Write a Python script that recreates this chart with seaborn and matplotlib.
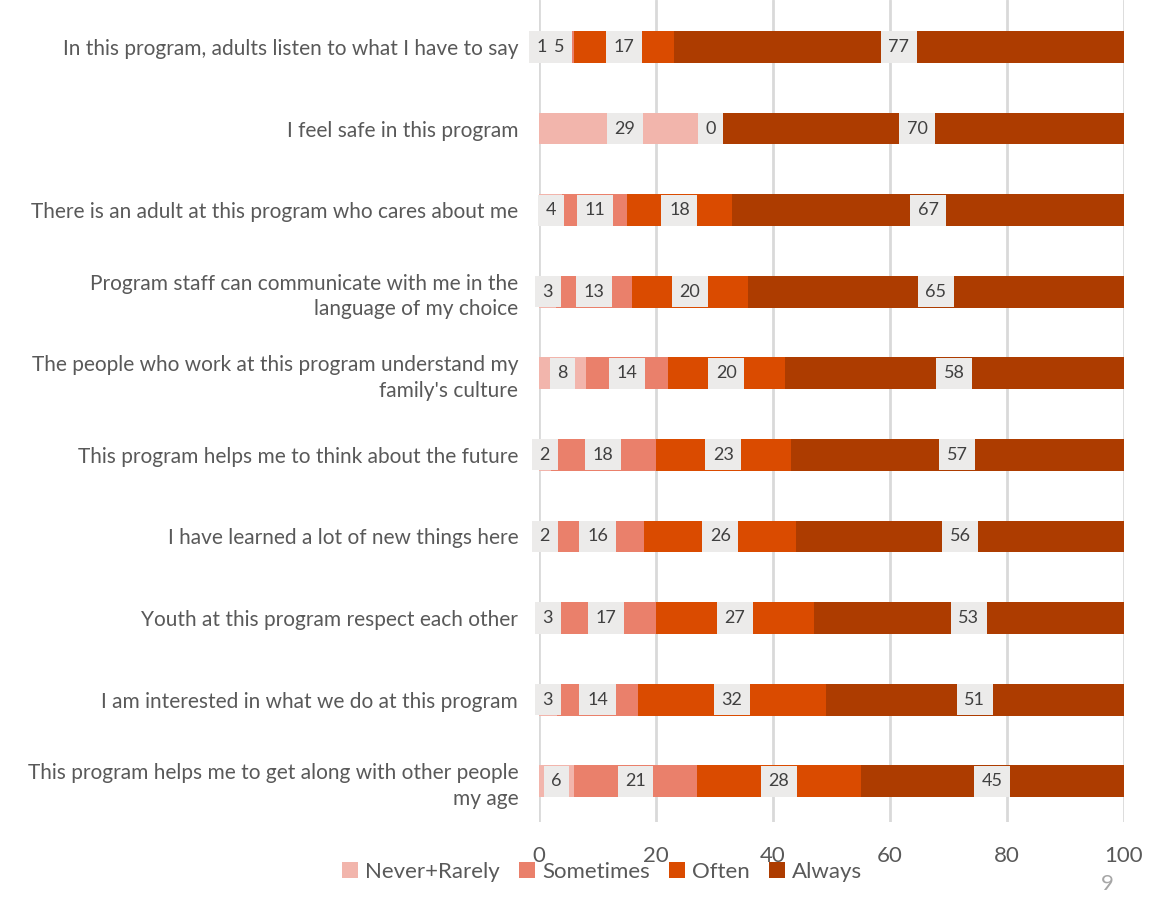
import numpy as np
import pandas as pd
import matplotlib
matplotlib.use("Agg")
import matplotlib.pyplot as plt
from matplotlib.patches import Patch
import seaborn as sns

# survey items, top to bottom
categories = [
    "In this program, adults listen to what I have to say",
    "I feel safe in this program",
    "There is an adult at this program who cares about me",
    "Program staff can communicate with me in the\nlanguage of my choice",
    "The people who work at this program understand my\nfamily's culture",
    "This program helps me to think about the future",
    "I have learned a lot of new things here",
    "Youth at this program respect each other",
    "I am interested in what we do at this program",
    "This program helps me to get along with other people\nmy age",
]
series_names = ["Never+Rarely", "Sometimes", "Often", "Always"]
never_rarely = [1, 29, 4, 3, 8, 2, 2, 3, 3, 6]
sometimes = [5, 0, 11, 13, 14, 18, 16, 17, 14, 21]
often = [17, np.nan, 18, 20, 20, 23, 26, 27, 32, 28]
always = [77, 70, 67, 65, 58, 57, 56, 53, 51, 45]
colors = ["#F2B5AC", "#EA806B", "#DA4B00", "#AD3C00"]
x_ticks = [0, 20, 40, 60, 80, 100]

df = pd.DataFrame({"Never+Rarely": never_rarely, "Sometimes": sometimes,
                   "Often": often, "Always": always}, index=categories)
# bars are scaled so every row fills 0-100 (labels keep the rounded values)
widths = df.fillna(0)
widths = widths.div(widths.sum(axis=1), axis=0) * 100
cum = widths.cumsum(axis=1)

sns.set_style("white")
plt.rcParams["font.family"] = ["Lato", "DejaVu Sans"]

fig = plt.figure(figsize=(11.63, 8.97), dpi=100)
ax = fig.add_axes([539 / 1163, 1 - 822 / 897, 585 / 1163, 822 / 897])

# draw cumulative bars from the right-most series back, so they stack
for name, col in reversed(list(zip(series_names, colors))):
    sns.barplot(x=cum[name].values, y=categories, color=col, saturation=1,
                orient="h", width=0.39, errorbar=None, linewidth=0, ax=ax,
                zorder=2)

# value labels
for i, cat in enumerate(categories):
    left = 0
    for name in series_names:
        v = df.loc[cat, name]
        w = widths.loc[cat, name]
        if not np.isnan(v):
            ax.text(left + w / 2, i, f"{int(v)}", ha="center", va="center",
                    fontsize=13, color="#404040", zorder=4,
                    bbox=dict(boxstyle="square,pad=0.42", fc="#ECEBEA", ec="none"))
        left += w

ax.set_xlim(0, 100)
ax.set_ylim(len(categories) - 0.5, -0.576)
ax.set_xticks(x_ticks)
ax.set_xticklabels([str(t) for t in x_ticks])
ax.xaxis.grid(True, color="#D9D9D9", linewidth=2, zorder=0)
ax.set_axisbelow(True)
for s in ax.spines.values():
    s.set_visible(False)
ax.set_xlabel("")
ax.set_ylabel("")
ax.tick_params(axis="x", length=0, pad=17, labelsize=16, labelcolor="#595959")
ax.tick_params(axis="y", length=0, pad=15, labelsize=15, labelcolor="#595959")
for lab in ax.get_yticklabels():
    lab.set_linespacing(1.35)
    lab.set_horizontalalignment("right")

handles = [Patch(facecolor=c, edgecolor="none", label=n) for n, c in zip(series_names, colors)]
fig.legend(handles=handles, loc="center", bbox_to_anchor=(602 / 1163, 1 - 872 / 897),
           ncol=4, frameon=False, fontsize=16, handlelength=0.75, handleheight=0.75,
           handletextpad=0.3, columnspacing=0.85, labelcolor="#595959")

fig.text(1107 / 1163, 1 - 884 / 897, "9", fontsize=16, color="#A6A6A6",
         ha="center", va="center")

fig.savefig("out.png", dpi=100)
